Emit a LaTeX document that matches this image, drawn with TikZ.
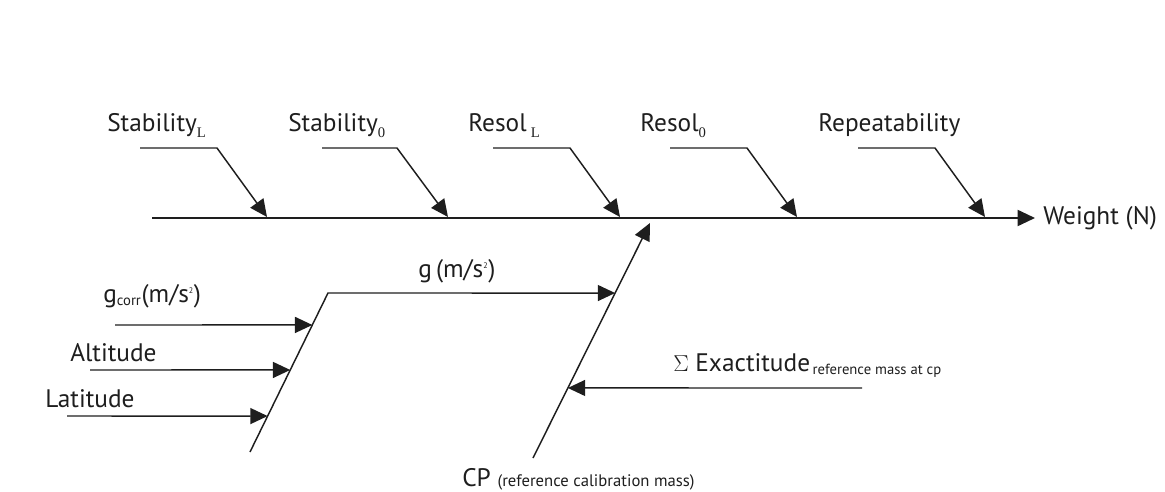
\documentclass[tikz,border=0pt]{standalone}
\usepackage{amsmath}
\usepackage{fontspec}
\setmainfont{PT Sans}
\newfontfamily\subserif{Liberation Serif}
\usetikzlibrary{arrows.meta,calc,positioning}
\definecolor{bonecolor}{RGB}{30,30,30}
\tikzstyle{bone}=[-{Triangle[length=13pt,width=12pt]}, line width=1.1pt, draw=bonecolor]
\tikzstyle{spine}=[bone, line width=1.4pt]
\tikzstyle{lbl}=[inner sep=0pt, anchor=base west, text=bonecolor, font=\fontsize{19}{21}\selectfont]
\newcommand{\sq}{\textsuperscript{\fontsize{6}{6}\selectfont 2}}
\newcommand{\lowsub}[1]{\raisebox{-4.5pt}{\subserif\fontsize{11}{11}\selectfont #1}}

\begin{document}
\begin{tikzpicture}[x=0.75pt,y=-0.75pt]
\useasboundingbox (0,0) rectangle (1165,492);

	% Spine
    \coordinate (spine-s) at (152,218);
    \node[lbl, anchor=west] (weight) at (1043,218) {Weight (N)};
    \draw[spine, shorten >=6pt] (spine-s) -- (weight.west);

	% Upper causes
    \foreach \name/\lx/\ax/\bx/\tx/\txt in {
            stabL/107/140/217/267/{Stability\lowsub{L}},
            stab0/288/322/397/448/{Stability\lowsub{0}},
            resL/468/493/570/620/{Resol\,\lowsub{L}},
            res0/640/670/747/797/{Resol\lowsub{0}},
            rep/818/858/935/985/{Repeatability}}
    {
        \node[lbl] (\name-lbl) at (\lx,132) {\txt};
        \coordinate (\name-a) at (\ax,148);
        \coordinate (\name-b) at (\bx,148);
        \coordinate (\name-t) at (\tx,217);
        \draw[bone] (\name-a) -- (\name-b) -- (\name-t);
    }

	% Reference mass rib
    \coordinate (cp-b) at (533,458);
    \coordinate (cp-t) at (650,223);
    \draw[bone] (cp-b) -- (cp-t);
    \path (cp-b) -- (cp-t) coordinate[pos=0.702] (cp-g) coordinate[pos=0.298] (cp-e);
    \node[lbl] (cp-lbl) at (462,486) {CP {\fontsize{12.5}{14}\selectfont(reference calibration mass)}};

    \coordinate (ex-a) at (862,388);
    \draw[bone] (ex-a) -- (cp-e);
    \node[lbl] (ex-lbl) at (673,371) {$\Sigma$ Exactitude\textsubscript{\fontsize{11}{11}\selectfont\,reference mass at cp}};

	% Gravity rib
    \coordinate (g-b) at (250,452);
    \coordinate (g-k) at (328,293);
    \draw[bone] (g-b) -- (g-k) -- (cp-g);
    \node[lbl] (g-lbl) at (418,277) {g\,(m/s\sq)};
    \path (g-b) -- (g-k) coordinate[pos=0.799] (g-j1) coordinate[pos=0.516] (g-j2) coordinate[pos=0.226] (g-j3);

    \coordinate (gcorr-a) at (115,325);
    \coordinate (alt-a) at (90,370);
    \coordinate (lat-a) at (67,416);
    \draw[bone] (gcorr-a) -- (g-j1);
    \draw[bone] (alt-a) -- (g-j2);
    \draw[bone] (lat-a) -- (g-j3);

    \node[lbl] (gcorr-lbl) at (103,302) {g\textsubscript{\fontsize{11}{11}\selectfont corr}(m/s\sq)};
    \node[lbl] (alt-lbl) at (70,361) {Altitude};
    \node[lbl] (lat-lbl) at (45,407) {Latitude};

\end{tikzpicture}
\end{document}
